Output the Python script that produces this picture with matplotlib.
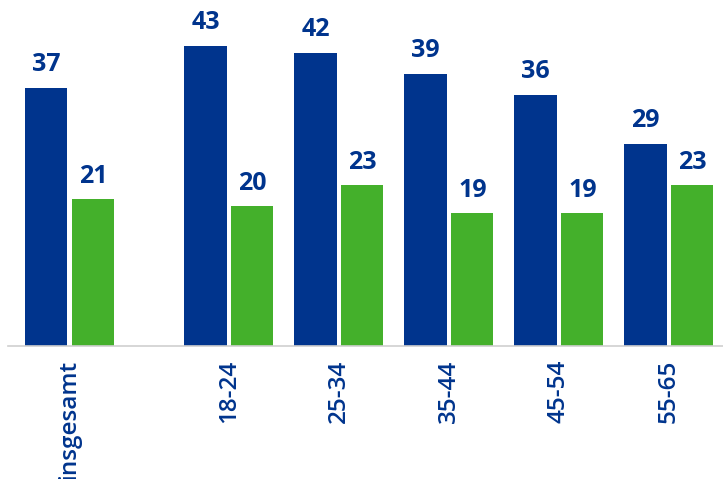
import matplotlib
matplotlib.use("Agg")
import matplotlib.pyplot as plt
import numpy as np

plt.rcParams['font.family'] = ['Open Sans', 'DejaVu Sans']

categories = ["insgesamt", "18-24", "25-34", "35-44", "45-54", "55-65"]
series_blue = [37, 43, 42, 39, 36, 29]
series_green = [21, 20, 23, 19, 19, 23]

BLUE = "#00348d"
GREEN = "#44b02b"

# group centres: the overall group sits apart from the age groups
x = np.array([0.0, 1.45, 2.45, 3.45, 4.45, 5.45])
width = 0.382
offset = 0.2136

fig = plt.figure(figsize=(7.23, 4.79), dpi=100)
ax = fig.add_axes([8 / 723, 133 / 479, 1 - 8 / 723, 335 / 479])

ax.bar(x - offset, series_blue, width, color=BLUE)
ax.bar(x + offset, series_green, width, color=GREEN)

for xi, v in zip(x - offset, series_blue):
    ax.text(xi, v + 1.55, str(v), ha="center", va="bottom",
            fontsize=18, fontweight="bold", color=BLUE)
for xi, v in zip(x + offset, series_green):
    ax.text(xi, v + 1.55, str(v), ha="center", va="bottom",
            fontsize=18, fontweight="bold", color=BLUE)

ax.set_xlim(-0.559, 5.941)
ax.set_ylim(0, 48)
ax.set_xticks(x)
ax.set_xticklabels(categories, rotation=90, fontsize=17.5, color=BLUE,
                   fontweight="semibold", va="top", ha="center")
ax.tick_params(axis="x", length=0, pad=10)
ax.set_yticks([])
for side in ("top", "right", "left"):
    ax.spines[side].set_visible(False)
ax.spines["bottom"].set_color("#cfcfcf")
ax.spines["bottom"].set_linewidth(1.2)

fig.savefig("out.png", dpi=100)
